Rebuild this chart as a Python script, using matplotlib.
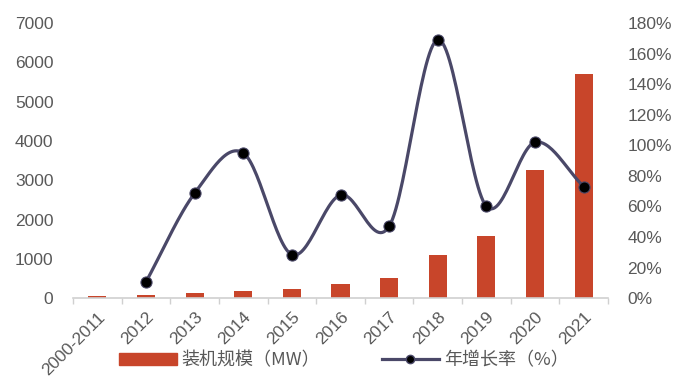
import numpy as np
import matplotlib
matplotlib.use("Agg")
import matplotlib.pyplot as plt
from matplotlib.lines import Line2D
from matplotlib.patches import Patch
import matplotlib.ticker as ticker

plt.rcParams['font.family'] = ['Liberation Sans', 'Noto Sans CJK SC', 'DejaVu Sans']

years = ["2000-2011", "2012", "2013", "2014", "2015", "2016",
         "2017", "2018", "2019", "2020", "2021"]
capacity_mw = [60, 90, 120, 180, 235, 350, 520, 1100, 1580, 3260, 5700]
growth_pct = [np.nan, 10.5, 68.5, 95, 28.5, 67.5, 47, 169, 60, 102, 73]

BAR_COLOR = "#C8452A"
LINE_COLOR = "#4A4868"
TEXT_COLOR = "#595959"
AXIS_COLOR = "#D0D0D0"


def smooth(xs, ys, steps=30):
    # Catmull-Rom through the points, like a spreadsheet "smoothed line"
    xs = np.asarray(xs, float)
    ys = np.asarray(ys, float)
    px = np.concatenate([[2 * xs[0] - xs[1]], xs, [2 * xs[-1] - xs[-2]]])
    py = np.concatenate([[2 * ys[0] - ys[1]], ys, [2 * ys[-1] - ys[-2]]])
    out_x, out_y = [], []
    t = np.linspace(0, 1, steps)
    for i in range(1, len(px) - 2):
        for arr, out in ((px, out_x), (py, out_y)):
            p0, p1, p2, p3 = arr[i - 1], arr[i], arr[i + 1], arr[i + 2]
            seg = 0.5 * ((2 * p1) + (-p0 + p2) * t
                         + (2 * p0 - 5 * p1 + 4 * p2 - p3) * t ** 2
                         + (-p0 + 3 * p1 - 3 * p2 + p3) * t ** 3)
            out.extend(seg)
    return np.array(out_x), np.array(out_y)


fig = plt.figure(figsize=(6.81, 3.76), dpi=100)
ax1 = fig.add_axes([0.107, 0.207, 0.786, 0.732])
ax2 = ax1.twinx()

x = np.arange(len(years))
ax1.bar(x, capacity_mw, width=0.37, color=BAR_COLOR, zorder=2)
ax1.set_xlim(-0.5, len(years) - 0.5)
ax1.set_ylim(0, 7000)
ax1.yaxis.set_major_locator(ticker.MultipleLocator(1000))

gx = x[1:]
gy = np.array(growth_pct[1:])
sx, sy = smooth(gx, gy)
ax2.plot(sx, sy, color=LINE_COLOR, lw=2.3, zorder=3, solid_capstyle="round")
ax2.plot(gx, gy, ls="none", marker="o", ms=8, mfc="black", mec=LINE_COLOR,
         mew=0.8, zorder=4)
ax2.set_ylim(0, 180)
ax2.yaxis.set_major_locator(ticker.MultipleLocator(20))
ax2.yaxis.set_major_formatter(ticker.FuncFormatter(lambda v, p: f"{int(v)}%"))

for ax in (ax1, ax2):
    for s in ax.spines.values():
        s.set_visible(False)
    ax.tick_params(axis="y", length=0, labelsize=12.5, labelcolor=TEXT_COLOR)
ax1.spines["bottom"].set_visible(True)
ax1.spines["bottom"].set_color(AXIS_COLOR)
ax1.spines["bottom"].set_linewidth(1.2)
ax1.tick_params(axis="y", pad=14)
ax2.tick_params(axis="y", pad=14)

ax1.set_xticks(x)
ax1.set_xticklabels(years, rotation=45, ha="right", rotation_mode="anchor",
                    fontsize=12.5, color=TEXT_COLOR)
ax1.tick_params(axis="x", which="major", length=0, pad=8)
ax1.set_xticks(np.arange(-0.5, len(years)), minor=True)
ax1.tick_params(axis="x", which="minor", length=4, color=AXIS_COLOR, width=1)

handles = [Patch(color=BAR_COLOR),
           Line2D([], [], color=LINE_COLOR, lw=2.3, marker="o", ms=6,
                  mfc="black", mec=LINE_COLOR)]
labels = ["装机规模（MW）", "年增长率（%）"]
fig.legend(handles, labels, loc="lower center", bbox_to_anchor=(0.505, -0.025),
           ncol=2, frameon=False, labelcolor=TEXT_COLOR,
           handlelength=3.2, handleheight=0.6, columnspacing=3.4,
           handletextpad=0.25,
           prop={"family": ["Noto Sans CJK SC", "DejaVu Sans"], "size": 13})

fig.savefig("out.png", dpi=100)
